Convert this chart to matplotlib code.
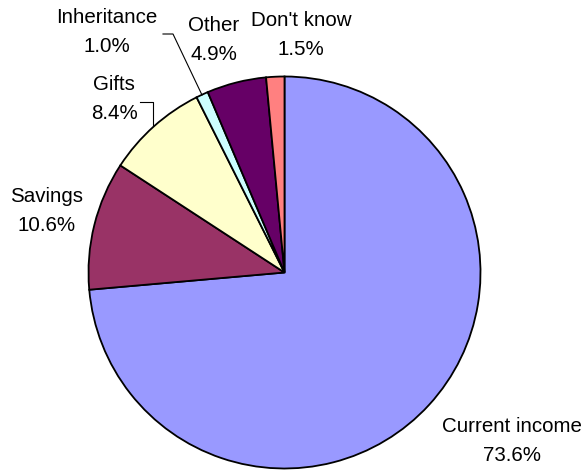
import matplotlib
matplotlib.use("Agg")
import matplotlib.pyplot as plt

labels = ["Current income", "Savings", "Gifts", "Inheritance", "Other", "Don't know"]
values = [73.6, 10.6, 8.4, 1.0, 4.9, 1.5]
colors = ["#9999FF", "#993366", "#FFFFCC", "#CCFFFF", "#660066", "#FF8080"]

W, H = 587, 472

# label centres in pixel coords (x, y from top)
label_pos = {
    "Current income": (512, 441),
    "Savings": (47, 211),
    "Gifts": (114, 99),
    "Inheritance": (107, 32),
    "Other": (214, 40),
    "Don't know": (301, 35),
}

plt.rcParams['font.family'] = ['Liberation Sans', 'DejaVu Sans']

fig = plt.figure(figsize=(W / 100, H / 100), dpi=100)
ax = fig.add_axes([0, 0, 1, 1])

ax.pie(values, colors=colors, startangle=90, counterclock=False,
       center=(284.5, H - 272.5), radius=196, frame=True,
       wedgeprops=dict(edgecolor="black", linewidth=1.3))
ax.set_xlim(0, W)
ax.set_ylim(0, H)
ax.set_aspect("equal")
ax.axis("off")

for lab, v in zip(labels, values):
    x, y = label_pos[lab]
    ax.text(x, H - y, f"{lab}\n{v:.1f}%", ha="center", va="center",
            fontsize=14.8, linespacing=1.62, color="black")

# leader lines
ax.plot([163, 173, 202], [H - 34, H - 34, H - 95], color="black", lw=0.8)
ax.plot([140, 153, 153], [H - 102, H - 102, H - 126], color="black", lw=0.8)

fig.savefig("out.png", dpi=100)
